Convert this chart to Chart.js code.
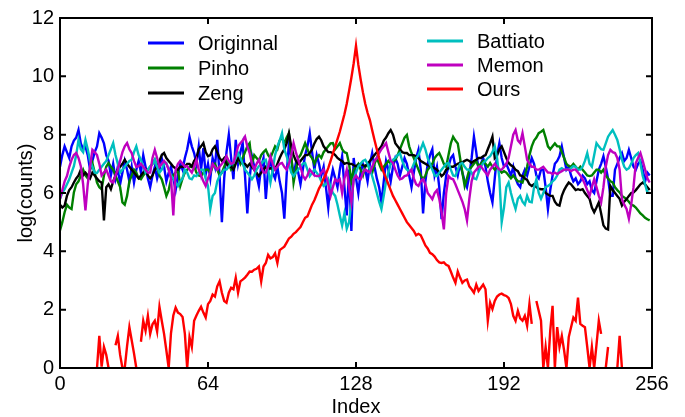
<!DOCTYPE html>
<html>
<head>
<meta charset="utf-8">
<script src="https://cdn.jsdelivr.net/npm/chart.js@4.4.1/dist/chart.umd.min.js"></script>
<style>
    html, body { margin: 0; padding: 0; background: #fff; }
    #wrap { width: 685px; height: 417px; position: relative; }
</style>
</head>
<body>
<div id="wrap"><canvas id="histChart"></canvas></div>
<script>
const xTicks = [0, 64, 128, 192, 256];
const yTicks = [0, 2, 4, 6, 8, 10, 12];
const seriesNames = ['Originnal', 'Pinho', 'Zeng', 'Battiato', 'Memon', 'Ours'];

// log(counts) per index, 0..255
const originnal = [
    6.9, 7.3, 7.6, 7.4, 7.2, 7.6, 7.8, 7.9, 8.16, 7.7, 7.5, 7.6, 7.3, 6.8, 7.1, 7.4,
    7.6, 8.05, 7.9, 7.7, 7.3, 7.1, 6.6, 7.0, 6.5, 6.9, 6.3, 6.7, 7.1, 6.8, 6.4, 6.9,
    6.36, 6.8, 7.1, 6.7, 7.3, 6.9, 6.5, 6.2, 6.6, 6.9, 6.5, 6.8, 7.2, 6.9, 6.4, 6.7,
    6.9, 6.5, 6.1, 6.6, 7.0, 6.8, 7.2, 7.5, 7.93, 7.6, 7.37, 7.0, 7.6, 6.8, 7.54, 6.64,
    7.0, 6.5, 7.2, 6.9, 7.82, 6.6, 5.0, 6.5, 7.4, 8.0, 7.2, 6.47, 7.82, 7.0, 7.4, 7.71,
    6.6, 5.3, 6.5, 7.26, 6.9, 6.6, 6.24, 6.9, 7.2, 5.8, 6.8, 7.14, 6.7, 6.5, 6.9, 6.4,
    6.0, 5.12, 6.6, 7.71, 7.2, 6.6, 7.03, 6.7, 6.3, 6.8, 7.3, 7.6, 8.05, 7.4, 6.8, 7.3,
    7.0, 6.6, 6.9, 6.2, 5.5, 6.4, 6.8, 6.5, 6.2, 6.8, 7.26, 6.2, 5.23, 6.8, 4.7, 7.2,
    6.5, 6.0, 6.7, 7.0, 6.8, 6.4, 7.0, 7.37, 6.9, 6.5, 6.2, 5.68, 6.4, 7.1, 6.8, 6.4,
    6.9, 7.2, 7.0, 6.6, 6.9, 7.2, 7.0, 6.6, 6.2, 6.7, 7.2, 7.48, 6.8, 5.3, 6.4, 7.0,
    7.3, 7.5, 6.6, 6.9, 6.2, 5.1, 6.0, 6.6, 6.9, 7.2, 7.3, 6.9, 6.6, 7.0, 6.7, 6.4,
    6.2, 6.6, 7.2, 7.93, 7.4, 6.8, 7.0, 7.2, 6.9, 6.4, 6.0, 5.68, 6.5, 7.3, 7.71, 7.2,
    6.9, 7.0, 6.8, 6.6, 6.9, 6.5, 6.3, 6.2, 6.6, 6.8, 6.6, 6.9, 7.2, 7.0, 6.6, 6.5,
    6.8, 6.8, 6.2, 5.45, 6.1, 6.6, 7.0, 7.1, 7.26, 7.6, 7.2, 6.8, 6.9, 6.6, 6.4, 6.5,
    6.3, 6.4, 6.6, 6.5, 6.3, 6.4, 6.1, 6.0, 6.4, 6.8, 7.0, 7.26, 6.9, 6.5, 5.9, 5.9,
    6.8, 7.0, 7.2, 7.37, 7.1, 7.2, 7.48, 7.2, 6.9, 6.8, 7.0, 7.1, 6.8, 6.4, 6.7, 6.6
];
const pinho = [
    4.72, 5.0, 5.34, 5.6, 5.5, 5.45, 6.02, 6.3, 6.4, 6.6, 6.8, 6.6, 6.5, 6.8, 7.03, 6.7,
    6.36, 6.2, 6.13, 6.6, 6.9, 7.03, 6.9, 6.8, 6.6, 6.4, 6.2, 5.68, 5.6, 5.9, 6.4, 6.6,
    6.8, 6.7, 6.5, 6.47, 6.6, 6.7, 6.8, 6.9, 7.0, 7.14, 6.9, 6.6, 6.47, 6.2, 5.9, 6.1,
    6.47, 6.6, 6.7, 6.8, 6.24, 6.5, 6.7, 6.8, 6.9, 6.9, 6.92, 6.7, 6.6, 6.58, 6.7, 6.8,
    6.8, 6.7, 6.9, 7.0, 6.8, 6.6, 6.7, 6.9, 7.1, 7.0, 6.8, 6.9, 7.1, 7.2, 7.0, 7.2,
    7.4, 7.6, 7.71, 7.0, 7.3, 7.2, 7.1, 7.3, 7.4, 7.48, 7.3, 7.2, 7.4, 7.6, 7.5, 7.8,
    7.9, 7.7, 7.9, 8.05, 7.3, 6.36, 6.8, 7.2, 7.3, 7.5, 7.71, 7.5, 7.3, 7.2, 7.0, 7.2,
    7.3, 7.2, 7.4, 7.5, 7.6, 7.7, 7.71, 7.5, 7.6, 7.71, 7.5, 7.4, 7.37, 7.0, 6.4, 6.8,
    6.9, 7.0, 6.8, 6.6, 6.9, 7.0, 6.8, 6.7, 7.0, 7.2, 7.0, 6.8, 6.9, 7.0, 7.1, 7.0,
    7.1, 7.14, 7.3, 7.5, 7.7, 7.9, 7.99, 7.6, 7.37, 7.2, 7.0, 6.8, 6.6, 6.47, 6.6, 6.8,
    6.9, 7.0, 7.2, 7.3, 7.37, 7.2, 7.0, 6.9, 7.3, 7.7, 7.93, 7.8, 7.7, 7.2, 6.7, 6.24,
    6.5, 6.8, 6.9, 7.0, 7.1, 6.9, 7.0, 7.1, 7.0, 6.9, 7.03, 6.9, 6.8, 6.9, 6.8, 6.7,
    6.75, 6.7, 6.6, 6.5, 6.6, 6.5, 6.4, 6.4, 6.36, 6.6, 6.9, 7.3, 7.6, 7.8, 7.9, 8.05,
    8.1, 8.16, 7.9, 7.6, 7.5, 7.6, 7.7, 7.6, 7.6, 7.4, 7.2, 7.0, 6.92, 6.9, 7.0, 6.9,
    6.8, 6.9, 6.8, 6.7, 6.6, 6.58, 6.6, 6.7, 6.8, 6.8, 6.7, 6.8, 6.6, 6.5, 6.4, 6.36,
    6.2, 6.1, 6.02, 5.9, 5.85, 5.79, 5.7, 5.6, 5.57, 5.5, 5.4, 5.3, 5.23, 5.15, 5.1, 5.06
];
const zeng = [
    5.6, 5.5, 5.57, 5.9, 6.1, 6.2, 6.36, 6.5, 6.6, 6.8, 6.6, 6.7, 6.6, 6.5, 6.7, 6.6,
    6.5, 6.4, 6.36, 5.06, 6.2, 6.3, 6.13, 6.4, 6.6, 6.8, 6.9, 7.0, 7.14, 7.0, 6.9, 6.8,
    6.7, 6.6, 6.5, 6.6, 6.7, 6.8, 6.6, 6.5, 6.6, 6.8, 6.9, 7.1, 7.3, 7.37, 7.2, 7.1,
    7.0, 6.9, 6.85, 6.8, 6.9, 6.9, 6.9, 7.0, 7.0, 6.9, 7.1, 7.2, 7.5, 7.6, 7.71, 7.4,
    7.26, 7.3, 7.5, 7.6, 7.4, 7.2, 7.1, 7.2, 7.0, 6.9, 6.9, 6.8, 7.0, 7.2, 7.1, 7.0,
    7.0, 6.9, 7.0, 6.9, 6.8, 6.7, 6.58, 6.7, 6.8, 6.9, 6.8, 6.85, 6.8, 6.8, 7.0, 7.2,
    7.37, 7.5, 7.7, 8.05, 7.6, 7.3, 7.1, 7.0, 7.1, 7.2, 7.3, 7.3, 7.37, 7.5, 7.7, 7.85,
    7.93, 7.8, 7.6, 7.5, 7.4, 7.4, 7.37, 7.3, 7.2, 7.14, 7.1, 7.0, 7.03, 7.0, 7.0, 6.95,
    6.92, 6.95, 7.0, 6.95, 6.92, 7.0, 7.1, 7.2, 7.3, 7.4, 7.5, 7.6, 7.8, 7.9, 8.05, 8.16,
    8.0, 7.71, 7.6, 7.5, 7.4, 7.37, 7.37, 7.3, 7.3, 7.3, 7.26, 7.2, 7.1, 7.05, 7.0, 6.95,
    6.92, 6.9, 6.85, 6.8, 6.7, 6.58, 6.65, 6.8, 6.85, 6.9, 6.9, 6.95, 7.0, 7.03, 7.05, 7.1,
    7.14, 7.1, 7.03, 7.1, 7.14, 7.2, 7.2, 7.26, 7.3, 7.5, 7.7, 7.93, 7.2, 7.3, 7.5, 7.6,
    7.4, 7.2, 7.03, 6.95, 6.9, 6.8, 6.75, 6.6, 6.58, 6.5, 6.45, 6.3, 6.24, 6.3, 6.2, 6.15,
    6.13, 6.13, 6.0, 5.95, 5.9, 5.9, 5.7, 5.6, 5.57, 5.9, 6.1, 6.24, 6.36, 6.3, 6.2, 6.1,
    6.13, 6.1, 6.13, 6.0, 5.9, 5.8, 5.5, 5.34, 5.5, 5.68, 5.3, 4.89, 4.78, 4.75, 6.24, 6.1,
    6.0, 5.9, 5.8, 5.57, 5.7, 5.79, 5.9, 6.0, 6.02, 6.1, 6.2, 6.3, 6.36, 6.3, 6.2, 6.1
];
const battiato = [
    5.8, 6.0, 6.13, 6.3, 6.47, 6.7, 6.92, 7.3, 7.82, 7.5, 7.4, 7.82, 7.5, 7.1, 6.9, 6.7,
    6.69, 6.8, 6.9, 7.0, 7.1, 7.3, 7.5, 7.71, 7.3, 7.0, 6.7, 6.8, 6.9, 7.0, 7.1, 7.14,
    7.4, 7.6, 7.3, 7.14, 6.9, 6.7, 6.8, 6.92, 7.0, 7.14, 6.9, 6.7, 6.8, 7.0, 7.03, 6.8,
    6.6, 6.5, 6.36, 6.24, 6.4, 6.5, 6.8, 6.7, 6.5, 6.47, 6.6, 6.58, 6.7, 6.8, 6.8, 6.5,
    6.24, 5.45, 5.9, 6.0, 6.4, 6.58, 6.7, 6.8, 6.8, 6.9, 7.0, 7.03, 7.2, 7.37, 7.2, 7.0,
    6.8, 6.7, 6.6, 6.47, 6.6, 6.8, 6.92, 7.0, 7.1, 7.14, 6.8, 6.36, 6.8, 7.3, 7.6, 7.8,
    8.05, 7.5, 7.26, 7.0, 6.7, 6.58, 6.7, 6.8, 6.9, 7.0, 7.03, 6.8, 6.58, 6.7, 6.8, 6.7,
    6.58, 6.4, 6.24, 6.3, 6.47, 6.2, 6.0, 5.9, 5.6, 5.23, 4.89, 5.3, 4.78, 5.0, 5.7, 6.47,
    6.7, 6.92, 7.0, 7.1, 7.14, 7.0, 6.8, 6.58, 6.3, 6.0, 5.7, 5.45, 5.9, 6.4, 6.7, 7.0,
    7.14, 7.2, 7.3, 7.37, 7.1, 6.9, 6.8, 6.75, 6.8, 7.0, 7.2, 7.3, 7.5, 7.71, 7.5, 7.2,
    7.0, 6.8, 6.6, 6.58, 6.7, 6.8, 6.9, 7.0, 7.03, 6.8, 6.6, 6.58, 6.8, 7.0, 7.03, 6.9,
    6.8, 6.8, 6.7, 6.5, 6.47, 6.7, 6.9, 7.03, 7.1, 7.2, 7.26, 7.4, 7.6, 7.2, 6.5, 5.0,
    5.5, 6.2, 6.36, 6.0, 5.7, 5.45, 5.8, 5.9, 5.7, 5.6, 5.9, 5.7, 5.68, 6.2, 6.47, 6.0,
    5.8, 6.0, 6.2, 6.24, 6.3, 6.4, 6.47, 6.6, 6.8, 6.85, 6.8, 6.8, 6.8, 6.85, 6.92, 6.9,
    6.8, 6.8, 6.9, 7.1, 7.37, 7.0, 6.9, 7.3, 7.71, 7.6, 7.5, 7.48, 7.7, 7.93, 8.05, 8.16,
    8.0, 7.82, 7.5, 7.14, 6.9, 6.8, 6.85, 7.0, 7.2, 7.3, 7.37, 7.0, 6.58, 6.3, 6.02, 6.0
];
const memon = [
    5.8, 6.1, 6.4, 6.58, 6.9, 7.14, 7.3, 7.37, 7.2, 6.92, 6.3, 5.4, 6.3, 6.9, 7.48, 7.4,
    7.3, 7.0, 6.6, 6.7, 6.8, 6.6, 6.4, 6.36, 6.6, 6.8, 7.1, 7.4, 7.6, 7.71, 7.5, 7.37,
    7.1, 6.9, 6.92, 7.0, 6.9, 6.8, 6.7, 6.7, 7.2, 7.48, 7.2, 6.9, 7.0, 7.1, 7.0, 6.8,
    6.5, 5.23, 6.8, 7.0, 7.1, 7.0, 6.9, 6.92, 6.8, 6.7, 6.9, 7.14, 6.8, 6.6, 6.4, 6.24,
    6.5, 6.7, 7.0, 6.9, 6.8, 6.9, 7.0, 7.1, 7.26, 7.1, 7.0, 7.03, 7.3, 7.6, 7.71, 7.8,
    7.93, 7.6, 7.37, 7.0, 6.8, 7.0, 7.14, 6.9, 6.7, 6.7, 6.9, 7.26, 7.0, 6.8, 6.9, 7.0,
    7.03, 6.9, 6.8, 7.0, 7.3, 7.71, 7.4, 7.14, 6.9, 6.6, 6.47, 6.6, 6.8, 6.7, 6.6, 6.58,
    6.58, 6.7, 6.8, 6.6, 6.3, 5.9, 6.2, 6.47, 6.4, 6.47, 6.0, 6.5, 6.8, 6.2, 5.68, 6.47,
    6.6, 6.5, 6.47, 6.7, 6.8, 6.75, 6.7, 6.9, 7.1, 7.2, 7.37, 7.5, 7.6, 7.71, 7.4, 7.1,
    7.03, 6.8, 6.6, 6.47, 6.5, 6.58, 6.6, 6.7, 6.8, 6.5, 6.3, 6.24, 6.4, 6.47, 6.3, 6.0,
    5.9, 5.79, 6.0, 6.1, 5.8, 5.34, 4.75, 6.0, 6.58, 6.5, 6.47, 6.3, 6.1, 5.9, 5.7, 5.45,
    5.06, 5.8, 6.4, 6.7, 6.8, 6.9, 6.92, 6.8, 6.7, 6.6, 6.8, 6.9, 7.0, 6.9, 6.8, 6.8,
    6.9, 7.0, 7.2, 7.6, 8.0, 8.16, 7.8, 7.71, 8.05, 7.6, 7.14, 7.0, 6.9, 6.9, 6.8, 6.8,
    6.85, 6.9, 6.8, 6.7, 6.7, 6.65, 6.7, 6.65, 6.7, 6.75, 6.8, 6.8, 6.8, 6.75, 6.8, 6.8,
    6.7, 6.6, 6.47, 6.3, 6.1, 5.9, 6.2, 6.47, 6.2, 5.9, 5.68, 6.2, 6.9, 7.3, 7.48, 7.4,
    7.37, 7.2, 6.8, 5.79, 5.6, 5.45, 5.12, 5.6, 6.2, 7.03, 7.2, 7.37, 7.1, 6.8, 6.5, 6.36
];
// null = empty bin (log of zero is not drawn)
const ours = [
    null, null, null, null, null, null, null, null, null, null, null, null, null, null, null, null,
    0, 1.1, 0.05, 0.72, 0.45, 0, null, null, 0.78, 1.1, 0.45, 0, 0, 0.75, 1.4, 0.95,
    0.5, 0, null, 0.9, 1.62, 1.28, 1.79, 1.17, 1.5, 1.62, 1.25, 2.1, 1.62, 1.17, 0.6, 0,
    1.2, 1.8, 2.07, 1.9, 1.85, 1.75, 1.17, 0, 1.06, 0.72, 1.62, 1.8, 1.96, 2.1, 1.9, 1.73,
    2.19, 2.3, 2.52, 2.45, 2.8, 2.97, 2.58, 2.3, 2.24, 2.58, 2.75, 2.7, 3.09, 2.58, 2.97, 3.03,
    3.1, 3.2, 3.31, 3.3, 3.37, 3.4, 3.48, 2.97, 3.48, 3.6, 3.88, 3.76, 3.8, 3.93, 3.6, 4.04,
    4.1, 4.16, 4.3, 4.44, 4.5, 4.6, 4.66, 4.75, 4.83, 5.0, 5.15, 5.2, 5.4, 5.6, 5.75, 5.95,
    6.15, 6.3, 6.5, 6.65, 6.85, 7.1, 7.35, 7.6, 7.85, 8.1, 8.4, 8.7, 9.06, 9.5, 9.95, 10.45,
    11.05, 10.4, 9.9, 9.45, 9.06, 8.75, 8.5, 8.15, 7.82, 7.5, 7.2, 6.95, 6.7, 6.5, 6.3, 6.1,
    5.9, 5.75, 5.6, 5.45, 5.3, 5.15, 5.0, 4.9, 4.8, 4.7, 4.55, 4.6, 4.55, 4.38, 4.2, 4.1,
    3.95, 3.9, 3.82, 3.7, 3.62, 3.6, 3.62, 3.54, 3.5, 3.31, 3.1, 2.92, 3.31, 3.1, 2.92, 3.0,
    3.03, 2.8, 2.7, 2.58, 2.86, 2.64, 2.75, 2.86, 2.7, 1.62, 2.24, 2.02, 2.3, 2.45, 2.52, 2.55,
    2.5, 2.47, 2.4, 2.19, 1.79, 1.62, 1.96, 1.7, 1.62, 1.79, 1.45, 2.19, 1.51, null, 2.3, 1.96,
    1.62, 0, 0.72, 0, 1.28, 2.13, 0, 1.4, 0.72, 1.1, 0.6, 0, 1.06, 1.4, 1.73, 1.62,
    2.41, 1.51, 1.45, 1.4, 0.72, 0, 0.72, 0, 0.8, 1.62, 1.17, null, 0, 0.72, null, null,
    null, 0, 1.1, 0, null, null, null, null, null, null, null, null, null, null, null, null
];

const seriesValues = [originnal, pinho, zeng, battiato, memon, ours];
const seriesColors = ['#0000ff', '#008000', '#000000', '#00bfbf', '#bf00bf', '#ff0000'];
const fontFamily = "'Liberation Sans', Arial, Helvetica, sans-serif";

function toPoints(values) {
    return values.map((v, i) => ({ x: i, y: v }));
}

const datasets = seriesNames.map((name, k) => ({
    label: name,
    data: toPoints(seriesValues[k]),
    borderColor: seriesColors[k],
    borderWidth: 2.4,
    pointRadius: 0,
    tension: 0,
    spanGaps: false,
    order: seriesNames.length - k
}));

// matlab style frame: box, inward ticks, two column legend, axis titles
const matlabFrame = {
    id: 'matlabFrame',
    afterDatasetsDraw(chart) {
        const { ctx, chartArea: a, scales } = chart;
        const x = scales.x, y = scales.y;
        ctx.save();
        ctx.strokeStyle = '#000';
        ctx.lineWidth = 2;
        ctx.strokeRect(a.left, a.top, a.right - a.left, a.bottom - a.top);

        ctx.beginPath();
        xTicks.forEach(v => {
            const px = x.getPixelForValue(v);
            ctx.moveTo(px, a.bottom); ctx.lineTo(px, a.bottom - 6);
            ctx.moveTo(px, a.top); ctx.lineTo(px, a.top + 6);
        });
        yTicks.forEach(v => {
            const py = y.getPixelForValue(v);
            ctx.moveTo(a.left, py); ctx.lineTo(a.left + 6, py);
            ctx.moveTo(a.right, py); ctx.lineTo(a.right - 6, py);
        });
        ctx.stroke();

        const cols = [
            { line: 148, text: 198, rows: [43, 68, 93] },
            { line: 427, text: 477, rows: [41, 65, 89] }
        ];
        ctx.font = '20px ' + fontFamily;
        ctx.textAlign = 'left';
        ctx.textBaseline = 'alphabetic';
        chart.data.datasets.forEach((ds, k) => {
            const col = cols[Math.floor(k / 3)];
            const ry = col.rows[k % 3];
            ctx.strokeStyle = ds.borderColor;
            ctx.lineWidth = 3;
            ctx.beginPath();
            ctx.moveTo(col.line, ry);
            ctx.lineTo(col.line + 36, ry);
            ctx.stroke();
            ctx.fillStyle = '#000';
            ctx.fillText(ds.label, col.text, ry + 7);
        });

        ctx.fillStyle = '#000';
        ctx.textAlign = 'center';
        ctx.fillText('Index', (a.left + a.right) / 2, 413);
        ctx.translate(26, (a.top + a.bottom) / 2);
        ctx.rotate(-Math.PI / 2);
        ctx.textBaseline = 'middle';
        ctx.fillText('log(counts)', 0, 0);
        ctx.restore();
    }
};

new Chart(document.getElementById('histChart'), {
    type: 'line',
    data: { datasets: datasets },
    options: {
        responsive: true,
        maintainAspectRatio: false,
        animation: false,
        layout: { padding: { top: 13, right: 33, left: 0, bottom: 0 } },
        plugins: { legend: { display: false }, tooltip: { enabled: false } },
        scales: {
            x: {
                type: 'linear',
                min: 0,
                max: 256,
                afterBuildTicks: s => { s.ticks = xTicks.map(v => ({ value: v })); },
                ticks: { color: '#000', font: { family: fontFamily, size: 20 }, padding: 4, maxRotation: 0 },
                grid: { display: false, drawTicks: false },
                border: { display: false },
                afterFit: s => { s.height = 49; }
            },
            y: {
                type: 'linear',
                min: 0,
                max: 12,
                afterBuildTicks: s => { s.ticks = yTicks.map(v => ({ value: v })); },
                ticks: { color: '#000', font: { family: fontFamily, size: 20 }, padding: 6 },
                grid: { display: false, drawTicks: false },
                border: { display: false },
                afterFit: s => { s.width = 60; }
            }
        }
    },
    plugins: [matlabFrame]
});
</script>
</body>
</html>
